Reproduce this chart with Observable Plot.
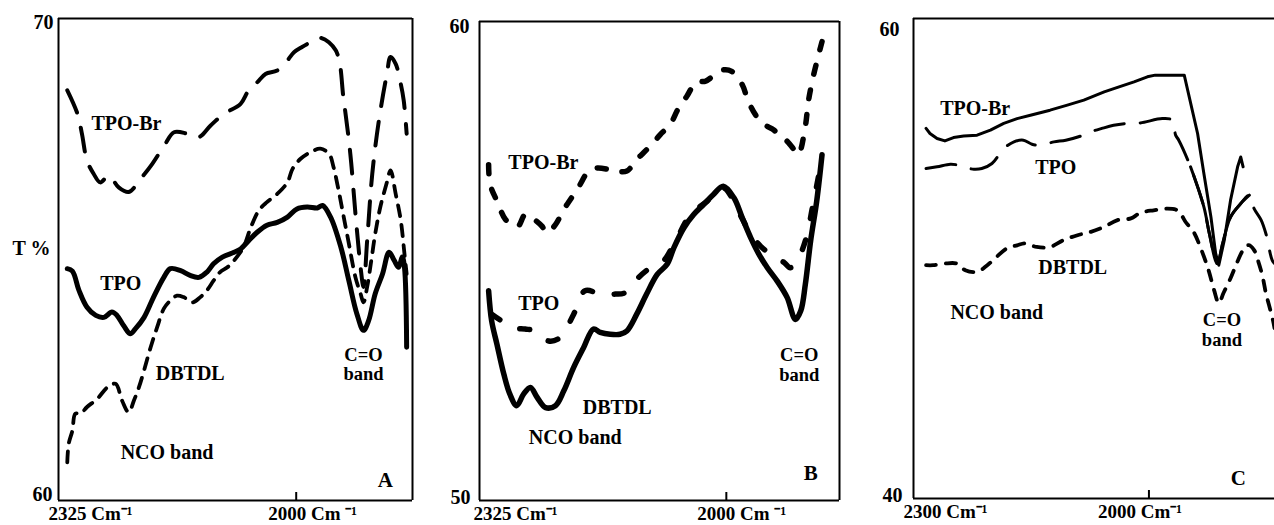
<!DOCTYPE html>
<html><head><meta charset="utf-8">
<script src="https://cdn.jsdelivr.net/npm/d3@7"></script>
<script src="https://cdn.jsdelivr.net/npm/@observablehq/plot@0.6"></script>
<style>
html,body{margin:0;padding:0;background:#fff;overflow:hidden;}
#wrap{position:relative;width:1274px;height:525px;overflow:hidden;}
.p{position:absolute;top:0;}
#wrap svg, #wrap svg text{font-family:"Liberation Serif","Times New Roman",serif !important;font-weight:bold;}
</style></head><body>
<div id="wrap"><div class="p" id="pa" style="left:0"></div><div class="p" id="pb" style="left:430px"></div><div class="p" id="pc" style="left:850px"></div></div>
<script>
// ---------- Panel A (wavenumber cm-1, T %) ----------
const aTPO = [[2313,64.81],[2306,64.76],[2297,64.36],[2286,64.01],[2274,63.84],[2263,63.80],[2252,63.91],[2245,63.84],[2236,63.63],[2227,63.46],[2220,63.56],[2208,63.80],[2195,64.22],[2181,64.63],[2172,64.81],[2158,64.77],[2145,64.67],[2133,64.63],[2122,64.74],[2113,64.91],[2101,65.05],[2085,65.15],[2076,65.22],[2065,65.39],[2053,65.57],[2040,65.71],[2026,65.77],[2012,65.88],[1999,66.05],[1985,66.09],[1971,66.07],[1964,66.12],[1953,65.88],[1939,65.26],[1928,64.56],[1917,63.87],[1908,63.53],[1901,63.73],[1892,64.29],[1882,64.70],[1873,65.15],[1866,64.98],[1860,64.84],[1855,65.05],[1852,64.84],[1849,63.18]];
const aDBTDL = [[2313,60.79],[2311,61.18],[2306,61.45],[2302,61.80],[2295,61.80],[2286,61.94],[2272,62.11],[2258,62.35],[2247,62.42],[2238,62.07],[2229,61.83],[2222,62.07],[2215,62.35],[2208,62.70],[2199,63.18],[2190,63.60],[2181,63.98],[2172,64.15],[2163,64.25],[2154,64.22],[2142,64.11],[2131,64.22],[2122,64.36],[2113,64.56],[2104,64.74],[2094,64.84],[2085,64.98],[2072,65.26],[2062,65.67],[2051,66.02],[2040,66.19],[2026,66.36],[2012,66.60],[2005,66.88],[1994,67.09],[1980,67.23],[1967,67.30],[1955,67.19],[1949,66.92],[1942,66.43],[1935,65.88],[1928,65.33],[1919,64.63],[1912,64.29],[1908,64.11],[1903,64.43],[1898,64.91],[1892,65.53],[1885,66.09],[1876,66.60],[1871,66.85],[1864,66.36],[1857,65.81],[1852,65.12],[1849,64.70]];
const aTPOBr = [[2313,68.51],[2299,68.02],[2293,67.61],[2286,67.05],[2277,66.78],[2268,66.60],[2256,66.74],[2243,66.50],[2229,66.40],[2213,66.67],[2197,66.98],[2179,67.40],[2167,67.64],[2149,67.61],[2133,67.54],[2117,67.78],[2099,68.02],[2076,68.23],[2065,68.51],[2053,68.68],[2042,68.85],[2026,68.92],[2012,69.13],[2003,69.30],[1992,69.41],[1980,69.51],[1967,69.60],[1946,69.34],[1935,68.30],[1926,67.19],[1919,65.95],[1912,64.84],[1908,64.43],[1903,65.39],[1896,66.78],[1887,67.88],[1876,68.85],[1871,69.20],[1864,69.06],[1857,68.64],[1853,68.30],[1849,67.61]];

// ---------- Panel B ----------
const bTPOBr = [[2313,57.01],[2311,56.60],[2302,56.25],[2291,55.87],[2282,55.76],[2274,55.73],[2265,55.97],[2256,55.90],[2243,55.73],[2236,55.59],[2225,55.76],[2214,56.08],[2208,56.22],[2195,56.53],[2181,56.88],[2170,56.94],[2155,56.91],[2146,56.88],[2131,56.88],[2118,57.12],[2109,57.26],[2096,57.47],[2087,57.64],[2074,57.85],[2063,58.19],[2052,58.44],[2039,58.75],[2028,58.75],[2015,58.89],[2004,58.99],[1993,58.96],[1979,58.68],[1971,58.33],[1957,57.95],[1946,57.81],[1938,57.74],[1931,57.64],[1920,57.50],[1909,57.29],[1905,57.22],[1896,57.81],[1892,58.33],[1885,58.89],[1874,59.58]];
const bTPO = [[2309,53.89],[2280,53.61],[2265,53.58],[2252,53.54],[2234,53.33],[2219,53.40],[2201,53.89],[2186,54.38],[2166,54.31],[2146,54.31],[2133,54.34],[2116,54.65],[2100,54.86],[2083,55.00],[2069,55.35],[2047,55.97],[2025,56.25],[2004,56.53],[1982,55.97],[1968,55.56],[1955,55.31],[1938,55.10],[1924,54.97],[1916,54.86],[1907,55.00],[1896,55.42],[1885,56.25],[1874,57.15]];
const bDBTDL = [[2313,54.38],[2309,53.75],[2302,53.26],[2293,52.64],[2285,52.22],[2276,51.98],[2267,52.22],[2258,52.36],[2249,52.15],[2238,51.94],[2225,51.98],[2214,52.29],[2201,52.78],[2188,53.19],[2175,53.58],[2166,53.51],[2153,53.47],[2140,53.47],[2131,53.54],[2118,53.89],[2105,54.31],[2091,54.72],[2078,54.93],[2069,55.28],[2056,55.69],[2043,55.97],[2030,56.18],[2017,56.39],[2004,56.56],[1990,56.32],[1979,55.90],[1968,55.49],[1957,55.14],[1946,54.86],[1933,54.58],[1920,54.24],[1909,53.78],[1902,53.96],[1896,54.51],[1889,55.42],[1881,56.25],[1874,57.22]];

// ---------- Panel C ----------
const cTPOBr = [[2284,55.42],[2279,55.21],[2270,55.00],[2260,54.90],[2249,55.04],[2236,55.10],[2219,55.14],[2202,55.35],[2185,55.63],[2168,55.83],[2151,55.97],[2126,56.18],[2104,56.39],[2083,56.60],[2057,56.94],[2040,57.13],[2019,57.36],[2002,57.57],[1992,57.64],[1955,57.64],[1938,55.21],[1930,53.54],[1921,51.73],[1915,50.21],[1911,49.72],[1904,50.76],[1896,52.43],[1887,53.82],[1883,54.23],[1880,53.82]];
const cTPO = [[2284,53.75],[2270,53.82],[2253,53.93],[2243,53.89],[2234,53.79],[2223,53.72],[2213,53.75],[2200,53.96],[2185,54.58],[2172,54.86],[2160,54.93],[2149,54.76],[2138,54.72],[2121,54.86],[2106,54.93],[2087,55.10],[2074,55.28],[2060,55.42],[2045,55.55],[2028,55.63],[2011,55.65],[1983,55.83],[1970,55.76],[1966,55.14],[1962,54.93],[1947,53.82],[1930,52.15],[1923,51.04],[1913,49.79],[1906,50.63],[1896,51.73],[1883,52.29],[1872,52.64],[1866,52.08],[1857,51.60],[1851,51.04],[1843,49.93],[1840,49.79]];
const cDBTDL = [[2284,49.72],[2275,49.72],[2260,49.79],[2245,49.79],[2234,49.51],[2219,49.44],[2206,49.72],[2194,50.07],[2181,50.42],[2168,50.55],[2157,50.63],[2143,50.48],[2126,50.48],[2109,50.76],[2091,50.97],[2074,51.11],[2057,51.32],[2040,51.60],[2023,51.67],[2011,51.90],[1994,52.01],[1977,52.08],[1966,52.04],[1960,51.88],[1953,51.51],[1943,51.10],[1934,50.43],[1924,49.51],[1917,48.68],[1911,48.14],[1905,48.56],[1896,49.18],[1888,49.81],[1880,50.35],[1873,50.56],[1866,50.35],[1860,49.81],[1855,49.22],[1851,48.56],[1847,48.06],[1842,47.43],[1840,47.10]];

// ---------- axis ticks and texts ----------
const yTicksA = [60, 70], yTicksB = [50, 60], yTicksC = [40, 60];
const xTicksA = [2325, 2000], xTicksB = [2325, 2000], xTicksC = [2300, 2000];
const xTextA = ["2325 Cm\u207B\u00B9", "2000 Cm \u207B\u00B9"];
const xTextB = ["2325 Cm\u207B\u00B9", "2000 Cm \u207B\u00B9"];
const xTextC = ["2300 Cm\u207B\u00B9", "2000 Cm\u207B\u00B9"];

const labelsA = [{label:"TPO-Br", w:2280, t:67.82},{label:"TPO", w:2268, t:64.50},{label:"DBTDL", w:2192, t:62.63},{label:"NCO band", w:2240, t:61.00}];
const labelsB = [{label:"TPO-Br", w:2287, t:57.06},{label:"TPO", w:2274, t:54.11},{label:"DBTDL", w:2189, t:51.94},{label:"NCO band", w:2260, t:51.32}];
const labelsC = [{label:"TPO-Br", w:2266, t:56.26},{label:"TPO", w:2145, t:53.80},{label:"DBTDL", w:2141, t:49.64},{label:"NCO band", w:2253, t:47.76}];
const bandA = [{label:"C=O\nband", w:1908, t:62.83}], bandB = [{label:"C=O\nband", w:1904, t:52.84}], bandC = [{label:"C=O\nband", w:1907, t:47.05}];
const letterA = [{label:"A", w:1878, t:60.42}], letterB = [{label:"B", w:1889, t:50.56}], letterC = [{label:"C", w:1886, t:40.85}];

const FONT = "Liberation Serif";
const XY = {x: d => d[0], y: d => d[1]};

function spectrum(data, o) {
  return Plot.line(data, {...XY, stroke: "#000", fill: "none", curve: "catmull-rom", strokeLinejoin: "round", ...o});
}

function makePanel(p) {
  const H = 525;
  const plotH = H - p.mt - p.mb;
  const T = {fontFamily: FONT, fontWeight: "bold"};
  const marks = [
    ...p.series,
    Plot.ruleX([p.xDomain[0]], {strokeWidth: 2}),
    p.rightBorder ? Plot.ruleX([p.xDomain[1]], {strokeWidth: 2}) : null,
    Plot.ruleY(p.yTicks, {strokeWidth: 2}),
    Plot.ruleX([p.xTicks[1]], {strokeWidth: 2, insetTop: plotH - 8}),
    Plot.axisX([p.xTicks[0]], {...T, tickSize: 0, tickPadding: 6, textAnchor: "start", dx: p.xdx[0], tickFormat: () => p.xText[0], label: null, fontSize: 19}),
    Plot.axisX([p.xTicks[1]], {...T, tickSize: 0, tickPadding: 6, textAnchor: "start", dx: p.xdx[1], tickFormat: () => p.xText[1], label: null, fontSize: 19}),
    Plot.axisY([p.yTicks[1]], {...T, tickSize: 0, tickPadding: p.ypad[1], dy: p.ydy[1], label: null, fontSize: 20}),
    Plot.axisY([p.yTicks[0]], {...T, tickSize: 0, tickPadding: p.ypad[0], dy: p.ydy[0], label: null, fontSize: 20}),
    Plot.text(p.labels, {...T, x: "w", y: "t", text: "label", textAnchor: "start", fontSize: 20}),
    Plot.text(p.band, {...T, x: "w", y: "t", text: "label", textAnchor: "middle", lineHeight: 1.08, fontSize: 18.5}),
    Plot.text(p.letter, {...T, x: "w", y: "t", text: "label", textAnchor: "middle", fontSize: 21}),
    ...(p.extra || [])
  ].filter(Boolean);
  return Plot.plot({
    width: p.width, height: H,
    marginLeft: p.ml, marginRight: p.mr, marginTop: p.mt, marginBottom: p.mb,
    x: {domain: p.xDomain},
    y: {domain: [p.yTicks[0], p.yTicks[1]]},
    style: {fontFamily: FONT, fontWeight: "bold", fontSize: "19px", color: "#000", background: "#fff", overflow: "visible"},
    marks
  });
}

document.querySelector("#pa").append(makePanel({
  width: 420, ml: 58, mr: 8, mt: 18, mb: 25,
  xDomain: [2325, 1841], yTicks: yTicksA, xTicks: xTicksA, xText: xTextA,
  xdx: [-10, -28], ypad: [6, 5], ydy: [-6, 4], rightBorder: true,
  labels: labelsA, band: bandA, letter: letterA,
  series: [
    spectrum(aTPOBr, {strokeWidth: 4, strokeDasharray: "24,16"}),
    spectrum(aDBTDL, {strokeWidth: 3.8, strokeDasharray: "11,9"}),
    spectrum(aTPO, {strokeWidth: 5})
  ],
  extra: [Plot.text(["T %"], {fontFamily: FONT, fontWeight: "bold", frameAnchor: "left", dx: -8, dy: -11, textAnchor: "end", text: d => d, fontSize: 20})]
}));

document.querySelector("#pb").append(makePanel({
  width: 420, ml: 49, mr: 11, mt: 21, mb: 25,
  xDomain: [2325, 1851], yTicks: yTicksB, xTicks: xTicksB, xText: xTextB,
  xdx: [-6, -29], ypad: [9, 10], ydy: [-3, 5], rightBorder: true,
  labels: labelsB, band: bandB, letter: letterB,
  series: [
    spectrum(bTPOBr, {strokeWidth: 5.5, strokeDasharray: "9,16", strokeLinecap: "round"}),
    spectrum(bTPO, {strokeWidth: 5.5, strokeDasharray: "10,22", strokeLinecap: "round"}),
    spectrum(bDBTDL, {strokeWidth: 5.5})
  ]
}));

document.querySelector("#pc").append(makePanel({
  width: 424, ml: 63, mr: 0, mt: 18, mb: 27,
  xDomain: [2300, 1840], yTicks: yTicksC, xTicks: xTicksC, xText: xTextC,
  xdx: [-10, -51], ypad: [11, 14], ydy: [-3, 11], rightBorder: false,
  labels: labelsC, band: bandC, letter: letterC,
  series: [
    spectrum(cDBTDL, {strokeWidth: 3.8, strokeDasharray: "10,10", strokeLinecap: "round"}),
    spectrum(cTPO, {strokeWidth: 3, strokeDasharray: "30,16"}),
    spectrum(cTPO, {strokeWidth: 3, filter: d => d[0] <= 1947 && d[0] >= 1872}),
    spectrum(cTPOBr, {strokeWidth: 3, curve: "linear"})
  ]
}));
</script></body></html>
